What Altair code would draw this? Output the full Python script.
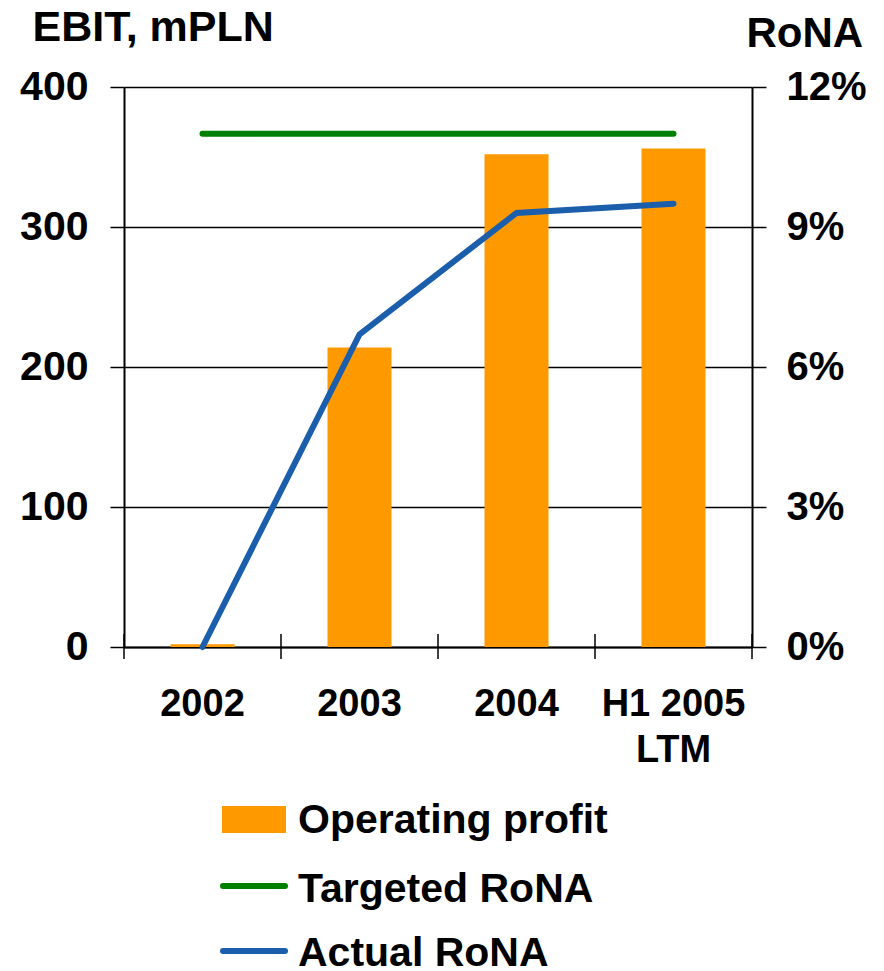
import altair as alt
import pandas as pd

categories = ["2002", "2003", "2004", "H1 2005 LTM"]
operating_profit = [2, 214, 352, 356]
targeted_rona = [0.11, 0.11, 0.11, 0.11]
actual_rona = [0.0, 0.067, 0.093, 0.095]
ebit_ticks = [0, 100, 200, 300, 400]
rona_ticks = [0, 0.03, 0.06, 0.09, 0.12]
legend_labels = ["Operating profit", "Targeted RoNA", "Actual RoNA"]
colors = ["#FF9900", "#008000", "#1B5EAB"]

FONT = "Liberation Sans"

bars_df = pd.DataFrame({"cat": categories, "ebit": operating_profit})
lines_df = pd.DataFrame({
    "cat": categories * 2,
    "rona": targeted_rona + actual_rona,
    "series": [legend_labels[1]] * len(categories) + [legend_labels[2]] * len(categories),
})
ticks_df = pd.DataFrame({"cat": categories})
last_df = pd.DataFrame({"cat": categories[-1:]})

xscale = alt.Scale(domain=categories, paddingInner=0, paddingOuter=0)
label_expr = "datum.value == 'H1 2005 LTM' ? ['H1 2005', 'LTM'] : datum.label"
x_axis = alt.Axis(
    title=None, domainColor="black", domainWidth=2, ticks=False, grid=False,
    labelFont=FONT, labelFontWeight="bold", labelFontSize=38, labelColor="black",
    labelPadding=38, labelExpr=label_expr, labelLineHeight=46, labelAngle=0,
)

left_axis = alt.Axis(
    orient="left", values=ebit_ticks, format="d",
    title="EBIT, mPLN", titleAngle=0, titleAlign="left", titleBaseline="alphabetic",
    titleX=-92, titleY=-47, titleFont=FONT, titleFontSize=43, titleFontWeight="bold",
    titleColor="black",
    labelFont=FONT, labelFontSize=41, labelFontWeight="bold", labelColor="black",
    labelPadding=22, tickSize=14, tickWidth=1.5, tickColor="black",
    domainColor="black", domainWidth=2,
    grid=True, gridColor="black", gridWidth=1.5,
)
right_axis = alt.Axis(
    orient="right", values=rona_ticks, format=".0%",
    title="RoNA", titleAngle=0, titleAlign="left", titleBaseline="alphabetic",
    titleX=-6, titleY=-41, titleFont=FONT, titleFontSize=42, titleFontWeight="bold",
    titleColor="black",
    labelFont=FONT, labelFontSize=40, labelFontWeight="bold", labelColor="black",
    labelPadding=20, tickSize=14, tickWidth=1.5, tickColor="black",
    domainColor="black", domainWidth=2, grid=False,
)

bars = alt.Chart(bars_df).mark_bar(color=colors[0], width=alt.RelativeBandSize(64 / 157)).encode(
    x=alt.X("cat:N", scale=xscale, sort=categories, axis=x_axis),
    y=alt.Y("ebit:Q", scale=alt.Scale(domain=[0, 400], nice=False), axis=left_axis),
)

lines = alt.Chart(lines_df).mark_line(strokeWidth=6, strokeCap="round").encode(
    x=alt.X("cat:N", scale=xscale, sort=categories, axis=x_axis),
    y=alt.Y("rona:Q", scale=alt.Scale(domain=[0, 0.12], nice=False), axis=right_axis),
    color=alt.Color("series:N", scale=alt.Scale(domain=legend_labels[1:], range=colors[1:]), legend=None),
)

xticks = alt.Chart(ticks_df).mark_rule(color="black", strokeWidth=1.5).encode(
    x=alt.X("cat:N", scale=xscale, sort=categories, bandPosition=0, axis=x_axis),
    y=alt.value(547), y2=alt.value(572),
)
xtick_last = alt.Chart(last_df).mark_rule(color="black", strokeWidth=1.5).encode(
    x=alt.X("cat:N", scale=xscale, sort=categories, bandPosition=1, axis=x_axis),
    y=alt.value(547), y2=alt.value(572),
)

text_style = dict(align="left", baseline="alphabetic", font=FONT, fontSize=41,
                  fontWeight="bold", color="black")

leg_rect = alt.Chart(pd.DataFrame({"label": legend_labels[:1]})).mark_rect(color=colors[0]).encode(
    x=alt.value(98), x2=alt.value(162), y=alt.value(719), y2=alt.value(746))
leg_green = alt.Chart(pd.DataFrame({"label": legend_labels[1:2]})).mark_rule(
    color=colors[1], strokeWidth=6, strokeCap="round").encode(
    x=alt.value(99), x2=alt.value(161), y=alt.value(799))
leg_blue = alt.Chart(pd.DataFrame({"label": legend_labels[2:3]})).mark_rule(
    color=colors[2], strokeWidth=6, strokeCap="round").encode(
    x=alt.value(99), x2=alt.value(161), y=alt.value(864))
leg_t1 = alt.Chart(pd.DataFrame({"label": legend_labels[:1]})).mark_text(**text_style).encode(
    x=alt.value(174), y=alt.value(746), text="label:N")
leg_t2 = alt.Chart(pd.DataFrame({"label": legend_labels[1:2]})).mark_text(**text_style).encode(
    x=alt.value(174), y=alt.value(815), text="label:N")
leg_t3 = alt.Chart(pd.DataFrame({"label": legend_labels[2:3]})).mark_text(**text_style).encode(
    x=alt.value(174), y=alt.value(879), text="label:N")

chart = alt.layer(
    bars, lines, xticks, xtick_last,
    leg_rect, leg_green, leg_blue, leg_t1, leg_t2, leg_t3,
).resolve_scale(y="independent").properties(
    width=628, height=560,
    autosize=alt.AutoSizeParams(type="none"),
    padding={"left": 116, "top": 79, "right": 116, "bottom": 320},
).configure_view(stroke=None)

chart.save("out.html", embed_options={"renderer": "svg", "actions": False})
